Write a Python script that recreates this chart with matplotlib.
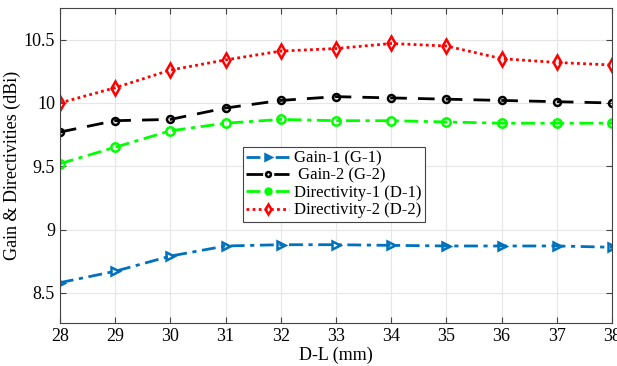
import matplotlib
matplotlib.use("Agg")
import matplotlib.pyplot as plt

plt.rcParams['font.family'] = ['Liberation Serif', 'DejaVu Serif']

dl = [28, 29, 30, 31, 32, 33, 34, 35, 36, 37, 38]
gain1 = [8.58, 8.67, 8.79, 8.87, 8.88, 8.88, 8.875, 8.87, 8.87, 8.87, 8.86]
gain2 = [9.77, 9.86, 9.87, 9.96, 10.02, 10.05, 10.04, 10.03, 10.02, 10.01, 10.0]
dir1 = [9.52, 9.65, 9.78, 9.84, 9.87, 9.86, 9.86, 9.85, 9.84, 9.84, 9.84]
dir2 = [10.0, 10.12, 10.26, 10.34, 10.41, 10.43, 10.47, 10.45, 10.35, 10.32, 10.30]

fig = plt.figure(figsize=(6.17, 3.66), dpi=100)
ax = fig.add_axes([0.097, 0.117, 0.895, 0.861])

dashdot = (0, (5, 2, 1.5, 2))
ax.plot(dl, gain1, linestyle=dashdot, color="#0072BD", marker=">", markersize=6,
        markerfacecolor="none", markeredgewidth=1.8, linewidth=2, label="Gain-1 (G-1)")
ax.plot(dl, gain2, linestyle=(0, (6, 4)), color="black", marker="o", markersize=5,
        markerfacecolor="none", markeredgewidth=1.8, linewidth=2, label=" Gain-2 (G-2)")
ax.plot(dl, dir1, linestyle=dashdot, color="#00FF00", marker="o", markersize=6,
        markerfacecolor="none", markeredgewidth=1.8, linewidth=2, label="Directivity-1 (D-1)")
ax.plot(dl, dir2, linestyle=(0, (1, 1.2)), color="red", marker="d", markersize=7,
        markerfacecolor="none", markeredgewidth=1.8, linewidth=2, label="Directivity-2 (D-2)")

ax.set_xlim(28, 38)
ax.set_ylim(8.26, 10.75)
ax.set_xticks(dl)
ax.set_yticks([8.5, 9, 9.5, 10, 10.5])
ax.set_yticklabels(["8.5", "9", "9.5", "10", "10.5"])
ax.grid(True, color="#e6e6e6", linewidth=0.8)
ax.set_axisbelow(True)
ax.tick_params(direction="in", top=True, right=True, labelsize=13, length=4, color="#444444")
for s in ax.spines.values():
    s.set_color("#444444")

ax.set_xlabel("D-L (mm)", fontsize=13, labelpad=1)
ax.set_ylabel("Gain & Directivities (dBi)", fontsize=13, labelpad=2)

leg = ax.legend(loc="upper left", bbox_to_anchor=(0.331, 0.559), fontsize=12, handlelength=2.6,
                handletextpad=0.3, borderpad=0.2, labelspacing=0.08, fancybox=False,
                framealpha=1, edgecolor="#444444", borderaxespad=0, markerscale=0.7)
leg.get_frame().set_linewidth(0.8)

fig.savefig("out.png", dpi=100)
